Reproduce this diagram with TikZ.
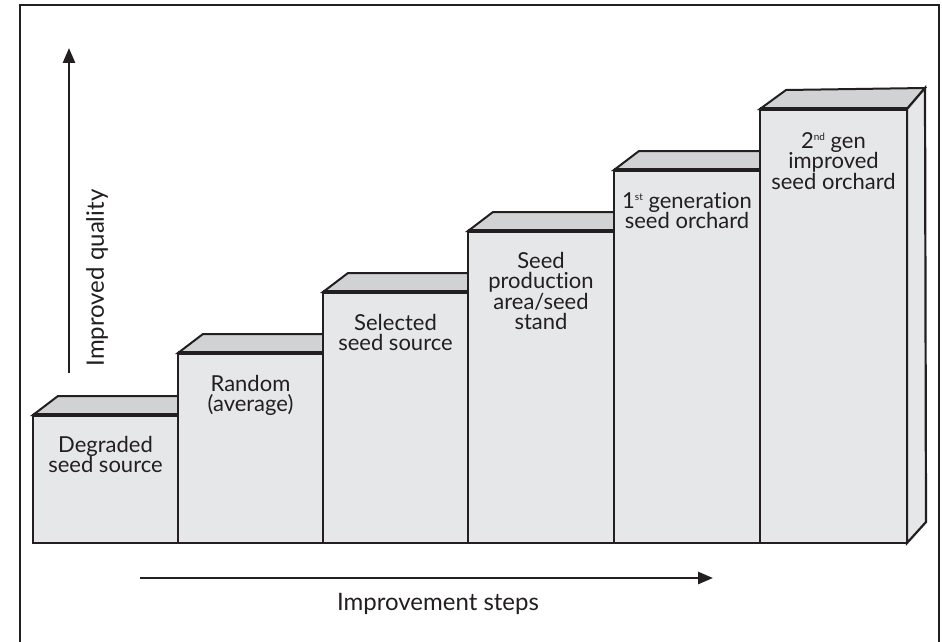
\documentclass[tikz,border=0pt]{standalone}
\usepackage{fontspec}
\setmainfont[Ligatures={NoCommon}]{Lato}
\usetikzlibrary{arrows.meta}
\definecolor{ink}{HTML}{231F20}
\definecolor{frontgrey}{HTML}{E6E7E8}
\definecolor{topgrey}{HTML}{D1D2D4}
\newcommand{\supx}[1]{\raisebox{8pt}{\fontsize{10}{10}\selectfont #1}}
\newcommand{\fl}{\rule{0pt}{18pt}}
\tikzset{
  front/.style={fill=frontgrey, draw=ink, line width=2.2pt},
  topface/.style={fill=topgrey, draw=ink, line width=2pt, line join=miter},
  topedge/.style={draw=ink, line width=3.2pt},
  label/.style={align=center, font=\fontsize{22}{20.5}\selectfont, text=ink, inner sep=0pt, anchor=north},
  axis/.style={draw=ink, line width=2.6pt, -{Triangle[length=15pt,width=12pt]}},
  axislabel/.style={font=\fontsize{24}{24}\selectfont, text=ink, inner sep=0pt},
  frame/.style={draw=ink, line width=2.6pt}
}
\begin{document}
\begin{tikzpicture}[x=1pt,y=-1pt]
\useasboundingbox (0,0) rectangle (942,642);
\fill[white] (0,0) rectangle (942,642);
\draw[frame] (20,650) -- (20,5) -- (939,5) -- (939,650);

% bars: left x, right x, top y
\foreach \xl/\xr/\yt in {33/178/415, 178/323/353, 323/468/292, 468/614/231, 614/760/170}{
  \draw[topface] (\xl,\yt) -- ({\xl+25},{\yt-19}) -- (\xr,{\yt-19}) -- (\xr,\yt) -- cycle;
  \draw[front] (\xl,\yt) rectangle (\xr,543);
  \draw[topedge] (\xl,\yt) -- (\xr,\yt);
}
% last bar with side face
\draw[topface] (760,109) -- (786,90) -- (925,88) -- (907,109) -- cycle;
\draw[front] (907,109) -- (925,88) -- (926,522) -- (907,543) -- cycle;
\draw[front] (760,109) rectangle (907,543);
\draw[topedge] (760,109) -- (907,109);

% texts
\node[label] (t1) at (105.5,434) {\fl Degraded\\seed source};
\node[label] (t2) at (250.5,373) {\fl Random\\(average)};
\node[label] (t3) at (395.5,312) {\fl Selected\\seed source};
\node[label] (t4) at (541,250) {\fl Seed\\production\\area/seed\\stand};
\node[label] (t5) at (687,190) {\fl 1\supx{st} generation\\seed orchard};
\node[label] (t6) at (833.5,130) {\fl 2\supx{nd} gen\\improved\\seed orchard};

% axes
\coordinate (va) at (69,373);
\coordinate (vb) at (69,48);
\draw[axis] (va) -- (vb);
\node[axislabel, rotate=90] (ql) at (97,278) {Improved quality};

\coordinate (ha) at (140,578);
\coordinate (hb) at (713,578);
\draw[axis] (ha) -- (hb);
\node[axislabel] (sl) at (438,604) {Improvement steps};
\end{tikzpicture}
\end{document}
